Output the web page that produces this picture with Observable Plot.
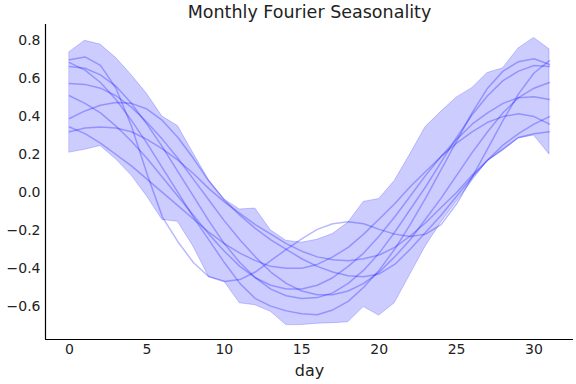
<!DOCTYPE html>
<html>
<head>
<meta charset="utf-8">
<script src="https://cdn.jsdelivr.net/npm/d3@7"></script>
<script src="https://cdn.jsdelivr.net/npm/@observablehq/plot@0.6"></script>
<style>
  html, body { margin: 0; padding: 0; background: #fff; }
</style>
</head>
<body>
<div id="chart"></div>
<script>
const days = [0,1,2,3,4,5,6,7,8,9,10,11,12,13,14,15,16,17,18,19,20,21,22,23,24,25,26,27,28,29,30,31];

// HDI band (lower / upper)
const bandLow  = [0.21,0.225,0.245,0.175,0.09,-0.02,-0.145,-0.155,-0.285,-0.445,-0.47,-0.585,-0.595,-0.63,-0.70,-0.70,-0.693,-0.69,-0.685,-0.605,-0.65,-0.585,-0.435,-0.285,-0.16,-0.05,0.06,0.165,0.22,0.285,0.30,0.20];
const bandHigh = [0.74,0.80,0.78,0.71,0.62,0.52,0.40,0.35,0.207,0.065,-0.037,-0.09,-0.085,-0.20,-0.255,-0.265,-0.25,-0.22,-0.16,-0.05,-0.035,0.06,0.20,0.345,0.425,0.50,0.55,0.63,0.655,0.76,0.815,0.755];

// sample curves
const sample1 = [0.70,0.715,0.67,0.55,0.35,0.10,-0.13,-0.26,-0.37,-0.445,-0.47,-0.46,-0.42,-0.36,-0.30,-0.245,-0.195,-0.165,-0.155,-0.165,-0.195,-0.22,-0.232,-0.22,-0.17,-0.06,0.08,0.23,0.38,0.52,0.63,0.695];
const sample2 = [0.685,0.645,0.58,0.49,0.38,0.26,0.13,0.00,-0.13,-0.25,-0.37,-0.48,-0.56,-0.60,-0.625,-0.64,-0.645,-0.62,-0.575,-0.50,-0.41,-0.30,-0.17,-0.03,0.12,0.27,0.42,0.55,0.64,0.69,0.705,0.675];
const sample3 = [0.665,0.655,0.62,0.56,0.47,0.36,0.24,0.11,-0.02,-0.15,-0.27,-0.37,-0.45,-0.51,-0.545,-0.56,-0.555,-0.53,-0.48,-0.41,-0.32,-0.21,-0.09,0.03,0.16,0.29,0.41,0.51,0.59,0.64,0.67,0.665];
const sample4 = [0.575,0.57,0.55,0.51,0.45,0.37,0.28,0.18,0.07,-0.04,-0.15,-0.25,-0.34,-0.42,-0.48,-0.52,-0.54,-0.54,-0.52,-0.48,-0.42,-0.34,-0.25,-0.14,-0.03,0.09,0.21,0.32,0.42,0.50,0.55,0.58];
const sample5 = [0.51,0.47,0.42,0.35,0.27,0.18,0.08,-0.02,-0.12,-0.22,-0.31,-0.39,-0.45,-0.49,-0.51,-0.51,-0.49,-0.45,-0.39,-0.32,-0.23,-0.13,-0.02,0.09,0.19,0.28,0.36,0.42,0.47,0.50,0.505,0.49];
const sample6 = [0.39,0.43,0.46,0.475,0.47,0.44,0.38,0.29,0.18,0.06,-0.04,-0.12,-0.19,-0.25,-0.30,-0.35,-0.39,-0.42,-0.44,-0.445,-0.43,-0.38,-0.30,-0.21,-0.12,-0.02,0.08,0.17,0.25,0.31,0.36,0.40];
const sample7 = [0.345,0.31,0.26,0.20,0.14,0.07,0.00,-0.07,-0.14,-0.21,-0.27,-0.32,-0.36,-0.39,-0.40,-0.40,-0.38,-0.34,-0.29,-0.22,-0.14,-0.06,0.03,0.11,0.19,0.26,0.32,0.37,0.40,0.415,0.40,0.36];
const sample8 = [0.32,0.34,0.345,0.34,0.32,0.28,0.23,0.17,0.10,0.02,-0.05,-0.11,-0.17,-0.22,-0.27,-0.31,-0.34,-0.355,-0.36,-0.35,-0.33,-0.29,-0.23,-0.16,-0.08,0.00,0.09,0.17,0.23,0.29,0.31,0.32];

const xTicks = [0,5,10,15,20,25,30];
const yTicks = [-0.6,-0.4,-0.2,0.0,0.2,0.4,0.6,0.8];
const titleText = "Monthly Fourier Seasonality";
const xLabel = "day";

const samples = [sample1,sample2,sample3,sample4,sample5,sample6,sample7,sample8];
const bandRows = days.map((d,i) => ({day:d, lo:bandLow[i], hi:bandHigh[i]}));
const lineRows = samples.flatMap((s,k) => days.map((d,i) => ({id:k, day:d, v:s[i]})));

const xMin = -1.55, xMax = 32.55, yMin = -0.776, yMax = 0.886;

const chart = Plot.plot({
  width: 576,
  height: 384,
  marginLeft: 45,
  marginRight: 3,
  marginTop: 24,
  marginBottom: 45,
  style: {fontFamily: "DejaVu Sans", fontSize: "14px", color: "#222", background: "#fff"},
  x: {domain: [xMin, xMax]},
  y: {domain: [yMin, yMax]},
  marks: [
    Plot.areaY(bandRows, {x: "day", y1: "lo", y2: "hi", fill: "blue", fillOpacity: 0.2, stroke: "blue", strokeOpacity: 0.2, strokeWidth: 1}),
    Plot.line(lineRows, {x: "day", y: "v", z: "id", stroke: "blue", strokeOpacity: 0.28, strokeWidth: 1.5}),
    Plot.axisX({ticks: xTicks, tickSize: 0, tickPadding: 5, fontSize: 14, label: null, tickFormat: d => String(d)}),
    Plot.axisY({ticks: yTicks, tickSize: 0, tickPadding: 5, fontSize: 14, label: null, tickFormat: d3.format(".1f")}),
    Plot.ruleX([xMin], {stroke: "#000", strokeWidth: 1.2}),
    Plot.ruleY([yMin], {stroke: "#000", strokeWidth: 1.2}),
    Plot.text([titleText], {frameAnchor: "top", dy: -12, lineAnchor: "middle", fontSize: 17.5, fill: "#222"}),
    Plot.text([xLabel], {frameAnchor: "bottom", dy: 31, lineAnchor: "middle", fontSize: 16, fill: "#222"})
  ]
});
document.getElementById("chart").appendChild(chart);
</script>
</body>
</html>
